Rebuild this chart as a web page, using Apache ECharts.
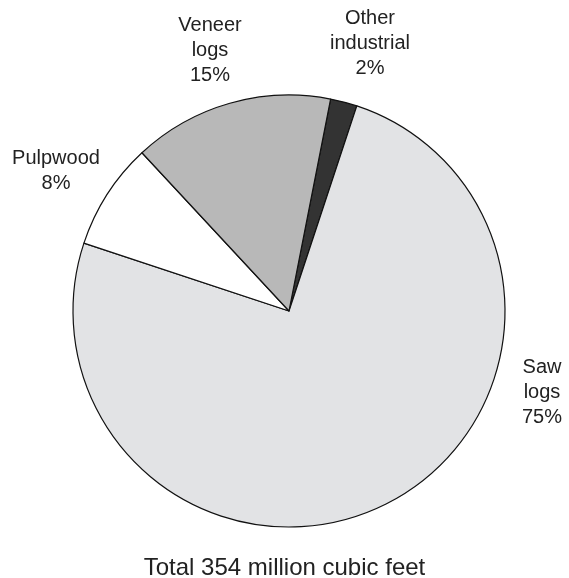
<!DOCTYPE html>
<html><head><meta charset="utf-8">
<script src="https://cdn.jsdelivr.net/npm/echarts@6/dist/echarts.min.js"></script>
<style>html,body{margin:0;padding:0;background:#fff}#c{width:569px;height:578px}</style>
</head><body><div id="c"></div>
<script>
const categories = ['Other\nindustrial', 'Saw\nlogs', 'Pulpwood', 'Veneer\nlogs'];
const values = [2, 75, 8, 15];
const colors = ['#333333', '#e2e3e5', '#ffffff', '#b8b8b8'];
const titleText = 'Total 354 million cubic feet';
// label anchor positions (center of label block)
const labelPos = [[370, 43], [542, 392], [56, 171], [210, 50]];

const chart = echarts.init(document.getElementById('c'));
chart.setOption({
  animation: false,
  title: {
    text: titleText, left: 'center', top: 551,
    textStyle: {fontFamily: 'Liberation Sans', fontSize: 24, fontWeight: 'normal', color: '#222'}
  },
  series: [{
    type: 'pie',
    center: [289, 311],
    radius: 216,
    startAngle: 78.9,
    clockwise: true,
    data: categories.map((n, i) => ({name: n, value: values[i], itemStyle: {color: colors[i]}})),
    itemStyle: {borderColor: '#111', borderWidth: 1.2},
    label: {
      show: true, position: 'outside', overflow: 'none',
      formatter: p => p.name + '\n' + p.value + '%',
      fontFamily: 'Liberation Sans', fontSize: 20, lineHeight: 25, color: '#222', align: 'center'
    },
    labelLine: {show: false},
    labelLayout: p => ({x: labelPos[p.dataIndex][0], y: labelPos[p.dataIndex][1], align: 'center', verticalAlign: 'middle'}),
    emphasis: {disabled: true}
  }]
});
</script></body></html>
